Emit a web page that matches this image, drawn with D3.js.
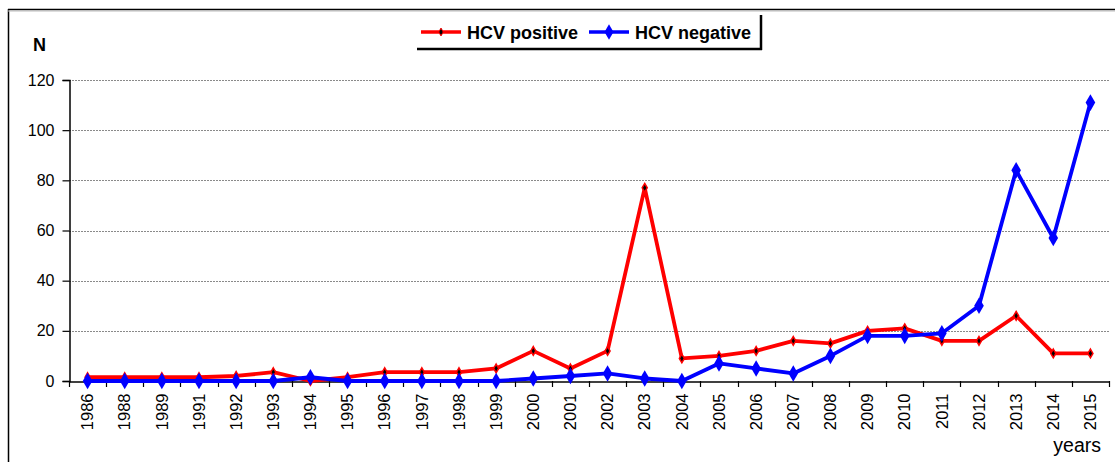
<!DOCTYPE html>
<html>
<head>
<meta charset="utf-8">
<script src="https://cdn.jsdelivr.net/npm/d3@7"></script>
<style>
  html, body { margin: 0; padding: 0; background: #fff; }
  svg { display: block; font-family: "Liberation Sans", Arial, sans-serif; }
</style>
</head>
<body>
<svg id="chart" width="1115" height="462"></svg>
<script>
// ---------- data ----------
const years = ["1986", "1988", "1989", "1991", "1992", "1993", "1994", "1995", "1996", "1997",
  "1998", "1999", "2000", "2001", "2002", "2003", "2004", "2005", "2006", "2007",
  "2008", "2009", "2010", "2011", "2012", "2013", "2014", "2015"];
const hcvPositive = [1.5, 1.5, 1.5, 1.5, 2, 3.5, 0, 1.5, 3.5, 3.5,
  3.5, 5, 12, 5, 12, 77, 9, 10, 12, 16,
  15, 20, 21, 16, 16, 26, 11, 11];
const hcvNegative = [0, 0, 0, 0, 0, 0, 1.5, 0, 0, 0,
  0, 0, 1, 2, 3, 1, 0, 7, 5, 3,
  10, 18, 18, 19, 30, 84, 57, 111];
const yTicks = [0, 20, 40, 60, 80, 100, 120];
const seriesNames = ["HCV positive", "HCV negative"];

const svg = d3.select("#chart");

// frame (left + top edge of the original figure box)
svg.append("line").attr("x1", 8.5).attr("x2", 8.5).attr("y1", 9).attr("y2", 462)
  .attr("stroke", "#000").attr("stroke-width", 1.5);
svg.append("line").attr("x1", 8).attr("x2", 1115).attr("y1", 9.5).attr("y2", 9.5)
  .attr("stroke", "#000").attr("stroke-width", 1.5);
svg.append("line").attr("x1", 8).attr("x2", 1115).attr("y1", 11).attr("y2", 11)
  .attr("stroke", "#bbb").attr("stroke-width", 1);

const x = d3.scaleBand().domain(years).range([69, 1109]).padding(0);
const y = d3.scaleLinear().domain([0, 120]).range([381, 80]);
const cx = d => x(d) + x.bandwidth() / 2;

// gridlines
svg.append("g")
  .selectAll("line")
  .data(yTicks.filter(t => t > 0))
  .join("line")
  .attr("x1", 69).attr("x2", 1109)
  .attr("y1", d => Math.round(y(d)) + 0.5).attr("y2", d => Math.round(y(d)) + 0.5)
  .attr("stroke", "#8a8a8a")
  .attr("stroke-width", 1)
  .attr("stroke-dasharray", "2,1");

// y axis
const yAxis = svg.append("g")
  .attr("transform", "translate(69.5,0)")
  .call(d3.axisLeft(y).tickValues(yTicks).tickSize(7).tickPadding(8));
yAxis.select(".domain").attr("stroke", "#000").attr("stroke-width", 1.5);
yAxis.selectAll(".tick line").attr("stroke", "#000").attr("stroke-width", 1.2);
yAxis.selectAll("text").attr("font-size", 16).attr("fill", "#000");

// x axis
const xAxis = svg.append("g")
  .attr("transform", `translate(0,${Math.round(y(0)) + 0.5})`)
  .call(d3.axisBottom(x).tickSize(0).tickSizeOuter(0));
xAxis.select(".domain").attr("stroke", "#000").attr("stroke-width", 1.5);
xAxis.selectAll("text")
  .attr("font-size", 16.5)
  .attr("fill", "#000")
  .attr("text-anchor", "end")
  .attr("transform", "rotate(-90)")
  .attr("x", -12)
  .attr("y", 0)
  .attr("dy", "0.35em");
// tick marks at category boundaries
svg.append("g")
  .selectAll("line")
  .data(years.concat(["end"]))
  .join("line")
  .attr("x1", (d, i) => Math.round(69 + i * x.bandwidth()) + 0.5)
  .attr("x2", (d, i) => Math.round(69 + i * x.bandwidth()) + 0.5)
  .attr("y1", Math.round(y(0)))
  .attr("y2", Math.round(y(0)) + 6)
  .attr("stroke", "#000")
  .attr("stroke-width", 1.2);

// axis titles
svg.append("text").attr("x", 33).attr("y", 51)
  .attr("font-size", 18).attr("font-weight", "bold").text("N");
svg.append("text").attr("x", 1101).attr("y", 452)
  .attr("text-anchor", "end").attr("font-size", 19.5).text("years");

// lines
const line = d3.line().x((d, i) => cx(years[i])).y(d => y(d));

svg.append("path").datum(hcvPositive)
  .attr("d", line).attr("fill", "none")
  .attr("stroke", "#ff0000").attr("stroke-width", 3.8).attr("stroke-linejoin", "round");
svg.append("g").selectAll("path")
  .data(hcvPositive)
  .join("path")
  .attr("transform", (d, i) => `translate(${cx(years[i])},${y(d)})`)
  .attr("d", d3.symbol(d3.symbolDiamond, 22))
  .attr("fill", "#000").attr("stroke", "#ff0000").attr("stroke-width", 1.5);

svg.append("path").datum(hcvNegative)
  .attr("d", line).attr("fill", "none")
  .attr("stroke", "#0000ff").attr("stroke-width", 3.8).attr("stroke-linejoin", "round");
svg.append("g").selectAll("path")
  .data(hcvNegative)
  .join("path")
  .attr("transform", (d, i) => `translate(${cx(years[i])},${y(d)})`)
  .attr("d", d3.symbol(d3.symbolDiamond, 80))
  .attr("fill", "#0000ff");

// legend
const legend = svg.append("g");
legend.append("rect").attr("x", 416).attr("y", 14).attr("width", 345).attr("height", 35)
  .attr("fill", "#fff");
legend.append("line").attr("x1", 417).attr("x2", 762).attr("y1", 49).attr("y2", 49)
  .attr("stroke", "#000").attr("stroke-width", 2.5);
legend.append("line").attr("x1", 761).attr("x2", 761).attr("y1", 15).attr("y2", 50)
  .attr("stroke", "#000").attr("stroke-width", 2.5);

const legendItems = [
  { name: seriesNames[0], x: 421, color: "#ff0000", marker: "dot" },
  { name: seriesNames[1], x: 589, color: "#0000ff", marker: "diamond" }
];
legendItems.forEach(it => {
  legend.append("line").attr("x1", it.x).attr("x2", it.x + 40).attr("y1", 32).attr("y2", 32)
    .attr("stroke", it.color).attr("stroke-width", 3.5);
  if (it.marker === "dot") {
    legend.append("path").attr("transform", `translate(${it.x + 20},32)`)
      .attr("d", d3.symbol(d3.symbolDiamond, 18))
      .attr("fill", "#000").attr("stroke", it.color).attr("stroke-width", 1);
  } else {
    legend.append("path").attr("transform", `translate(${it.x + 20},32)`)
      .attr("d", d3.symbol(d3.symbolDiamond, 70))
      .attr("fill", it.color);
  }
  legend.append("text").attr("x", it.x + 46).attr("y", 38.5)
    .attr("font-size", 18).attr("font-weight", "bold").text(it.name);
});
</script>
</body>
</html>
